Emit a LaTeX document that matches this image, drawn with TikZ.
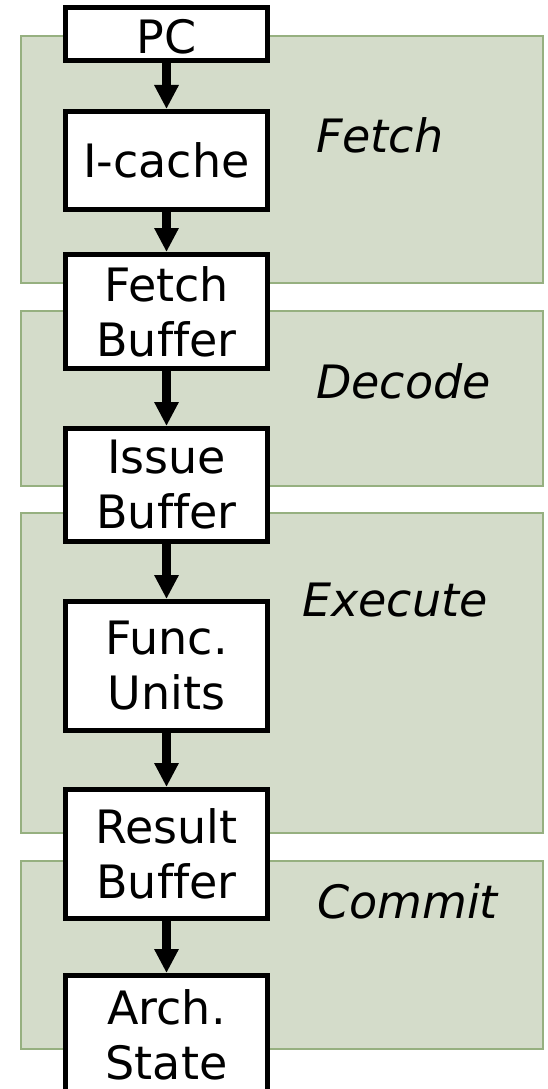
\documentclass[tikz,border=0pt]{standalone}
\usepackage{fontspec}
\setmainfont[Ligatures=NoCommon]{DejaVu Sans}
\usetikzlibrary{arrows.meta}
\definecolor{panelfill}{RGB}{212,220,202}
\definecolor{paneledge}{RGB}{150,176,128}
\begin{document}
\begin{tikzpicture}[x=1pt,y=-1pt,
  panel/.style={fill=panelfill,draw=paneledge,line width=1.5pt},
  unit/.style={draw=black,fill=white,line width=5pt,minimum width=202pt,inner sep=0pt,align=center,font=\fontsize{46}{55}\selectfont},
  stage/.style={anchor=base west,inner sep=0pt,font=\fontsize{46}{55}\selectfont\itshape},
  flow/.style={line width=9pt,-{Triangle[width=23pt,length=24pt]}}]
\useasboundingbox (0,0) rectangle (548,1089);
% stage panels
\draw[panel] (21,36) rectangle (543,283);
\draw[panel] (21,311) rectangle (543,486);
\draw[panel] (21,513) rectangle (543,833);
\draw[panel] (21,861) rectangle (543,1049);
% stage labels
\node[stage] (lfetch) at (316,152) {Fetch};
\node[stage] (ldecode) at (316,398) {Decode};
\node[stage] (lexec) at (302,616) {Execute};
\node[stage] (lcommit) at (317,918) {Commit};
% units
\node[unit,minimum height=53pt,text height=40pt,text depth=0pt] (pc) at (166.5,34) {PC};
\node[unit,minimum height=98pt] (ic) at (166.5,160.5) {I-cache};
\node[unit,minimum height=114pt] (fb) at (166.5,311.5) {Fetch\\Buffer};
\node[unit,minimum height=113pt] (ib) at (166.5,485) {Issue\\Buffer};
\node[unit,minimum height=129pt] (fu) at (166.5,666) {Func.\\Units};
\node[unit,minimum height=129pt] (rb) at (166.5,854) {Result\\Buffer};
\node[unit,minimum height=119pt] (as) at (166.5,1035) {Arch.\\State};
% flow arrows
\draw[flow] (pc) -- (ic);
\draw[flow] (ic) -- (fb);
\draw[flow] (fb) -- (ib);
\draw[flow] (ib) -- (fu);
\draw[flow] (fu) -- (rb);
\draw[flow] (rb) -- (as);
\end{tikzpicture}
\end{document}
